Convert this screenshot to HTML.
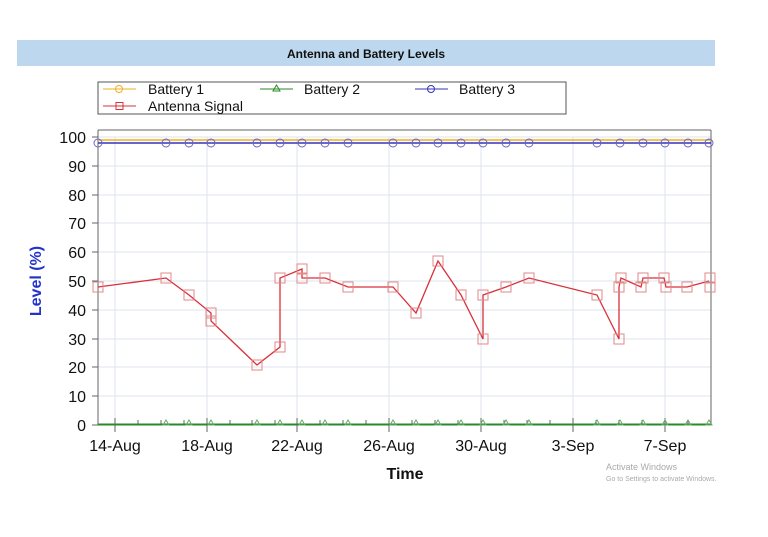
<!DOCTYPE html>
<html><head><style>body{margin:0;background:#fff;width:768px;height:532px;overflow:hidden;font-family:"Liberation Sans",Arial,sans-serif}</style></head>
<body>
<svg width="768" height="532" xmlns="http://www.w3.org/2000/svg" font-family="Liberation Sans, Arial, sans-serif">
<rect x="17" y="40" width="698" height="26" fill="#bdd7ee"/>
<text x="366" y="58" font-size="12" font-weight="bold" text-anchor="middle" fill="#111">Antenna and Battery Levels</text>
<rect x="98" y="82" width="468" height="32" fill="#fff" stroke="#555"/>
<g font-size="14" fill="#111">
<line x1="103" y1="89" x2="136" y2="89" stroke="#f0b020"/><circle cx="119" cy="89" r="3.5" fill="none" stroke="#f0b020"/><text x="148" y="94">Battery 1</text>
<line x1="260" y1="89" x2="293" y2="89" stroke="#2a8a2a"/><path d="M276.5 85 L280 91 L273 91Z" fill="none" stroke="#2a8a2a"/><text x="304" y="94">Battery 2</text>
<line x1="415" y1="89" x2="448" y2="89" stroke="#3333bb"/><circle cx="431" cy="89" r="3.5" fill="none" stroke="#3333bb"/><text x="459" y="94">Battery 3</text>
<line x1="103" y1="106" x2="136" y2="106" stroke="#d9303a"/><rect x="116" y="102.5" width="7" height="7" fill="none" stroke="#d9303a"/><text x="148" y="111">Antenna Signal</text>
</g>
<g stroke="#dde4ec" stroke-width="1">
<line x1="98" x2="711" y1="137" y2="137"/><line x1="98" x2="711" y1="166" y2="166"/><line x1="98" x2="711" y1="195" y2="195"/><line x1="98" x2="711" y1="223" y2="223"/><line x1="98" x2="711" y1="252" y2="252"/><line x1="98" x2="711" y1="281" y2="281"/><line x1="98" x2="711" y1="310" y2="310"/><line x1="98" x2="711" y1="339" y2="339"/><line x1="98" x2="711" y1="367" y2="367"/><line x1="98" x2="711" y1="396" y2="396"/>
<line x1="115" x2="115" y1="137" y2="425"/><line x1="207" x2="207" y1="137" y2="425"/><line x1="297" x2="297" y1="137" y2="425"/><line x1="389" x2="389" y1="137" y2="425"/><line x1="481" x2="481" y1="137" y2="425"/><line x1="573" x2="573" y1="137" y2="425"/><line x1="665" x2="665" y1="137" y2="425"/>
</g>
<g stroke="#666"><line x1="98" y1="130" x2="98" y2="425"/><line x1="711" y1="130" x2="711" y2="425"/><line x1="98" y1="130" x2="711" y2="130"/>
<line x1="92" y1="137" x2="98" y2="137"/><line x1="92" y1="166" x2="98" y2="166"/><line x1="92" y1="195" x2="98" y2="195"/><line x1="92" y1="223" x2="98" y2="223"/><line x1="92" y1="252" x2="98" y2="252"/><line x1="92" y1="281" x2="98" y2="281"/><line x1="92" y1="310" x2="98" y2="310"/><line x1="92" y1="339" x2="98" y2="339"/><line x1="92" y1="367" x2="98" y2="367"/><line x1="92" y1="396" x2="98" y2="396"/><line x1="92" y1="425" x2="98" y2="425"/>
<line x1="115" y1="418" x2="115" y2="432"/><line x1="207" y1="418" x2="207" y2="432"/><line x1="297" y1="418" x2="297" y2="432"/><line x1="389" y1="418" x2="389" y2="432"/><line x1="481" y1="418" x2="481" y2="432"/><line x1="573" y1="418" x2="573" y2="432"/><line x1="665" y1="418" x2="665" y2="432"/>
<line x1="138" y1="420" x2="138" y2="425"/><line x1="161" y1="420" x2="161" y2="425"/><line x1="184" y1="420" x2="184" y2="425"/><line x1="230" y1="420" x2="230" y2="425"/><line x1="252" y1="420" x2="252" y2="425"/><line x1="275" y1="420" x2="275" y2="425"/><line x1="320" y1="420" x2="320" y2="425"/><line x1="343" y1="420" x2="343" y2="425"/><line x1="366" y1="420" x2="366" y2="425"/><line x1="412" y1="420" x2="412" y2="425"/><line x1="435" y1="420" x2="435" y2="425"/><line x1="458" y1="420" x2="458" y2="425"/><line x1="504" y1="420" x2="504" y2="425"/><line x1="527" y1="420" x2="527" y2="425"/><line x1="550" y1="420" x2="550" y2="425"/><line x1="596" y1="420" x2="596" y2="425"/><line x1="619" y1="420" x2="619" y2="425"/><line x1="642" y1="420" x2="642" y2="425"/><line x1="688" y1="420" x2="688" y2="425"/>
</g>
<g font-size="16" fill="#111" text-anchor="end">
<text x="86" y="143">100</text><text x="86" y="172">90</text><text x="86" y="201">80</text><text x="86" y="229">70</text><text x="86" y="258">60</text><text x="86" y="287">50</text><text x="86" y="316">40</text><text x="86" y="345">30</text><text x="86" y="373">20</text><text x="86" y="402">10</text><text x="86" y="431">0</text>
</g>
<g font-size="16" fill="#111" text-anchor="middle">
<text x="115" y="451">14-Aug</text><text x="207" y="451">18-Aug</text><text x="297" y="451">22-Aug</text><text x="389" y="451">26-Aug</text><text x="481" y="451">30-Aug</text><text x="573" y="451">3-Sep</text><text x="665" y="451">7-Sep</text>
</g>
<text x="405" y="479" font-size="16" font-weight="bold" text-anchor="middle" fill="#111">Time</text>
<text transform="translate(41,281) rotate(-90)" font-size="16" font-weight="bold" text-anchor="middle" fill="#2233cc">Level (%)</text>
<line x1="98" y1="140" x2="711" y2="140" stroke="#f0b020" stroke-width="1.5"/>
<line x1="98" y1="143" x2="711" y2="143" stroke="#3333bb" stroke-width="1.5"/>
<line x1="98" y1="424.5" x2="711" y2="424.5" stroke="#2a8a2a" stroke-width="2"/>
<g fill="none" stroke="#66aa66">
<path d="M166 420 l3 5 h-6z"/><path d="M189 420 l3 5 h-6z"/><path d="M211 420 l3 5 h-6z"/><path d="M257 420 l3 5 h-6z"/><path d="M280 420 l3 5 h-6z"/><path d="M302 420 l3 5 h-6z"/><path d="M325 420 l3 5 h-6z"/><path d="M348 420 l3 5 h-6z"/><path d="M393 420 l3 5 h-6z"/><path d="M416 420 l3 5 h-6z"/><path d="M438 420 l3 5 h-6z"/><path d="M461 420 l3 5 h-6z"/><path d="M483 420 l3 5 h-6z"/><path d="M506 420 l3 5 h-6z"/><path d="M529 420 l3 5 h-6z"/><path d="M597 420 l3 5 h-6z"/><path d="M620 420 l3 5 h-6z"/><path d="M643 420 l3 5 h-6z"/><path d="M665 420 l3 5 h-6z"/><path d="M688 420 l3 5 h-6z"/><path d="M709 420 l3 5 h-6z"/>
</g>
<g fill="none" stroke="#6666cc">
<circle cx="98" cy="143" r="4"/><circle cx="166" cy="143" r="4"/><circle cx="189" cy="143" r="4"/><circle cx="211" cy="143" r="4"/><circle cx="257" cy="143" r="4"/><circle cx="280" cy="143" r="4"/><circle cx="302" cy="143" r="4"/><circle cx="325" cy="143" r="4"/><circle cx="348" cy="143" r="4"/><circle cx="393" cy="143" r="4"/><circle cx="416" cy="143" r="4"/><circle cx="438" cy="143" r="4"/><circle cx="461" cy="143" r="4"/><circle cx="483" cy="143" r="4"/><circle cx="506" cy="143" r="4"/><circle cx="529" cy="143" r="4"/><circle cx="597" cy="143" r="4"/><circle cx="620" cy="143" r="4"/><circle cx="643" cy="143" r="4"/><circle cx="665" cy="143" r="4"/><circle cx="688" cy="143" r="4"/><circle cx="709" cy="143" r="4"/>
</g>
<polyline fill="none" stroke="#d9303a" stroke-width="1.3" points="98,287 166,278 189,295 211,313 211,321 257,365 280,347 280,278 302,269 302,278 325,278 348,287 393,287 416,313 438,261 461,295 483,339 483,295 506,287 529,278 597,295 619,339 619,287 621,278 641,287 643,278 664,278 666,287 687,287 709,281"/>
<g fill="none" stroke="#e08888">
<rect x="93" y="282" width="10" height="10"/><rect x="161" y="273" width="10" height="10"/><rect x="184" y="290" width="10" height="10"/><rect x="206" y="308" width="10" height="10"/><rect x="206" y="316" width="10" height="10"/><rect x="252" y="360" width="10" height="10"/><rect x="275" y="342" width="10" height="10"/><rect x="275" y="273" width="10" height="10"/><rect x="297" y="264" width="10" height="10"/><rect x="297" y="273" width="10" height="10"/><rect x="320" y="273" width="10" height="10"/><rect x="343" y="282" width="10" height="10"/><rect x="388" y="282" width="10" height="10"/><rect x="411" y="308" width="10" height="10"/><rect x="433" y="256" width="10" height="10"/><rect x="456" y="290" width="10" height="10"/><rect x="478" y="334" width="10" height="10"/><rect x="478" y="290" width="10" height="10"/><rect x="501" y="282" width="10" height="10"/><rect x="524" y="273" width="10" height="10"/><rect x="592" y="290" width="10" height="10"/><rect x="614" y="334" width="10" height="10"/><rect x="614" y="282" width="10" height="10"/><rect x="616" y="273" width="10" height="10"/><rect x="636" y="282" width="10" height="10"/><rect x="638" y="273" width="10" height="10"/><rect x="659" y="273" width="10" height="10"/><rect x="661" y="282" width="10" height="10"/><rect x="682" y="282" width="10" height="10"/><rect x="705" y="273" width="10" height="10"/><rect x="705" y="282" width="10" height="10"/>
</g>
<text x="606" y="470" font-size="9" fill="#aaa">Activate Windows</text>
<text x="606" y="481" font-size="7" fill="#aaa">Go to Settings to activate Windows.</text>
</svg>
</body></html>
